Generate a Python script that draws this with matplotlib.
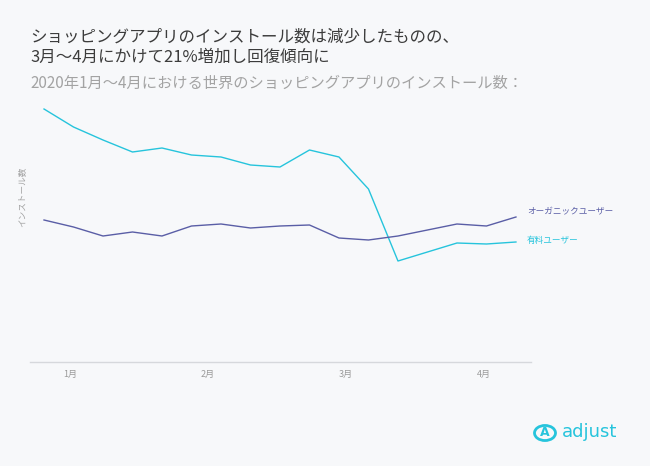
import matplotlib.pyplot as plt
from matplotlib.patches import Circle

plt.rcParams["font.family"] = ["Noto Sans CJK JP", "DejaVu Sans"]

# weekly installs, Jan-Apr 2020 (index values)
weeks = list(range(17))
paid = [253, 235, 222, 210, 214, 207, 205, 197, 195, 212, 205, 173, 101, 110, 119, 118, 120]
organic = [142, 135, 126, 130, 126, 136, 138, 134, 136, 137, 124, 122, 126, 132, 138, 136, 145]
month_pos = [0.88, 5.55, 10.24, 14.92]
month_labels = ["1月", "2月", "3月", "4月"]

BG = "#f7f8fa"
CYAN = "#26c4dc"
NAVY = "#5a5ea6"

fig = plt.figure(figsize=(6.5, 4.66), dpi=100, facecolor=BG)
ax = fig.add_axes([30 / 650, 1 - 362 / 466, 501 / 650, 262 / 466], facecolor=BG)

ax.plot(weeks, paid, color=CYAN, lw=1.0)
ax.plot(weeks, organic, color=NAVY, lw=1.0)

ax.set_xlim(-0.475, 16.51)
ax.set_ylim(0, 262)
ax.set_yticks([])
ax.set_xticks(month_pos)
ax.set_xticklabels(month_labels, color="#9a9a9a", fontsize=6.5)
ax.tick_params(axis="x", length=0, pad=6)
for side in ["top", "right", "left"]:
    ax.spines[side].set_visible(False)
ax.spines["bottom"].set_color("#d6d8dc")
ax.spines["bottom"].set_linewidth(1.0)

ax.annotate("オーガニックユーザー", xy=(weeks[-1], organic[-1]), xytext=(8, 4),
            textcoords="offset points", color=NAVY, fontsize=6.2, va="center")
ax.annotate("有料ユーザー", xy=(weeks[-1], paid[-1]), xytext=(8, 1),
            textcoords="offset points", color=CYAN, fontsize=6.2, va="center")

fig.text(22 / 650, 1 - 197 / 466, "インストール数", rotation=90, color="#a0a0a0",
         fontsize=6.2, ha="center", va="center")

fig.text(30 / 650, 1 - 37 / 466, "ショッピングアプリのインストール数は減少したものの、",
         color="#3c3c3c", fontsize=11.9, va="center")
fig.text(30 / 650, 1 - 57 / 466, "3月～4月にかけて21%増加し回復傾向に",
         color="#3c3c3c", fontsize=11.9, va="center")
fig.text(30 / 650, 1 - 83 / 466, "2020年1月～4月における世界のショッピングアプリのインストール数：",
         color="#a3a3a3", fontsize=11.0, va="center")

# adjust logo
fig.patches.append(Circle((545 / 650, 1 - 433 / 466), 10.5 / 650, transform=fig.transFigure,
                          fill=False, ec=CYAN, lw=2.0))
fig.text(545 / 650, 1 - 433 / 466, "A", color=CYAN, fontsize=9, ha="center", va="center",
         family="DejaVu Sans", fontweight="bold")
fig.text(562 / 650, 1 - 432 / 466, "adjust", color=CYAN, fontsize=13, va="center",
         family="DejaVu Sans")

fig.savefig("out.png", dpi=100, facecolor=BG)
